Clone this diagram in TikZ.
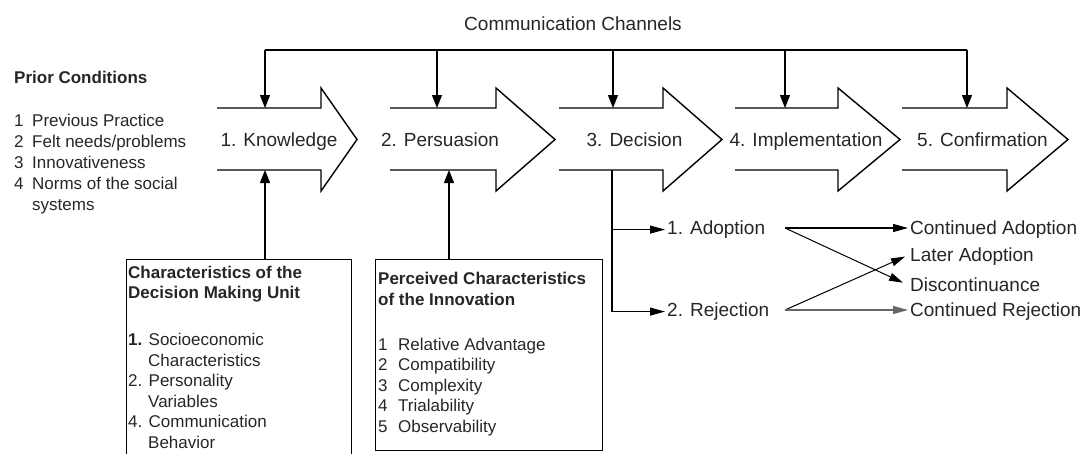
\documentclass[tikz,border=0pt]{standalone}
\usepackage{fontspec}
\setmainfont{Liberation Sans}
\usetikzlibrary{arrows.meta,calc}

\begin{document}
\begin{tikzpicture}[x=1pt,y=-1pt,
  stagebox/.style={draw=black, line width=1.4pt, line join=miter},
  bus/.style={draw=black, line width=1.3pt},
  feed/.style={bus, -{Triangle[length=13pt,width=10pt]}},
  branch/.style={draw=black, line width=1.2pt, -{Triangle[length=15pt,width=8pt]}, shorten >=2pt},
  cross/.style={draw=black, line width=1pt, -{Triangle[length=14pt,width=8pt]}},
  biglabel/.style={font=\fontsize{19}{22}\selectfont, inner sep=0pt, text=black!85},
  smalltext/.style={font=\fontsize{17}{20.5}\selectfont, inner sep=0pt, text=black!85},
  panel/.style={draw=black, line width=1.3pt, anchor=north west, inner sep=0pt},
]
\useasboundingbox (0,0) rectangle (1086,453);
\clip (0,0) rectangle (1086,453);

% ---- the five stages as open block arrows: left x, shaft end, tip, label x
\foreach \i/\l/\s/\t/\c/\txt in {
  1/217/321/357/279/{1. Knowledge},
  2/390/496/555/440/{2. Persuasion},
  3/559/663/722/634.5/{3. Decision},
  4/735/838/900/806/{4. Implementation},
  5/902/1007/1068/982.5/{5. Confirmation}}{
  \draw[stagebox] (\l,108) -- (\s,108) -- (\s,88) -- (\t,139.5) -- (\s,191) -- (\s,170) -- (\l,170);
  \node[biglabel, anchor=base] (stage\i) at (\c,146.5) {\txt};
}

% entry points on the top and bottom edges of the stage arrows
\coordinate (s1t) at (265,108);
\coordinate (s2t) at (437,108);
\coordinate (s3t) at (613,108);
\coordinate (s4t) at (785,108);
\coordinate (s5t) at (967,108);
\coordinate (s1b) at (265,170);
\coordinate (s2b) at (449,170);
\coordinate (s3b) at (612,170);

% ---- communication channels bus
\node[biglabel, anchor=base] (comm) at (573,30.5) {Communication Channels};
\coordinate (c1) at (265,50);
\coordinate (c2) at (437,50);
\coordinate (c3) at (613,50);
\coordinate (c4) at (785,50);
\coordinate (c5) at (967,50);
\draw[bus] (c1) -- (c5);
\foreach \i in {1,...,5}{ \draw[feed] (c\i) -- (s\i t); }

% ---- prior conditions
\node[anchor=base west, inner sep=0pt, text=black!85] (prior) at (14,83) {%
  \fontsize{17}{21}\selectfont
  \begin{tabular}[t]{@{}l@{}l@{}}
  \multicolumn{2}{@{}l@{}}{\textbf{Prior Conditions}}\\[22.5pt]
  \makebox[18pt][l]{1} & Previous Practice\\
  \makebox[18pt][l]{2} & Felt needs/problems\\
  \makebox[18pt][l]{3} & Innovativeness\\
  \makebox[18pt][l]{4} & Norms of the social\\
   & systems
  \end{tabular}};

% ---- characteristics of the decision making unit
\node[panel, minimum width=225pt, minimum height=240pt] (unit) at (126,259) {};
\node[smalltext, anchor=base west] (unittext) at (128,278) {%
  \begin{tabular}[t]{@{}l@{}}
  \textbf{Characteristics of the}\\
  \textbf{Decision Making Unit}\\[26.5pt]
  \textbf{1.} Socioeconomic\\
  \hspace{20pt}Characteristics\\
  2. Personality\\
  \hspace{20pt}Variables\\
  4. Communication\\
  \hspace{20pt}Behavior
  \end{tabular}};
\draw[feed] (s1b |- unit.north) -- (s1b);

% ---- perceived characteristics of the innovation
\node[panel, minimum width=227pt, minimum height=191pt] (innov) at (375,259) {};
\node[smalltext, anchor=base west] (innovtext) at (378,284.5) {%
  \begin{tabular}[t]{@{}l@{}l@{}}
  \multicolumn{2}{@{}l@{}}{\textbf{Perceived Characteristics}}\\
  \multicolumn{2}{@{}l@{}}{\textbf{of the Innovation}}\\[24.5pt]
  \makebox[20pt][l]{1} & Relative Advantage\\
  \makebox[20pt][l]{2} & Compatibility\\
  \makebox[20pt][l]{3} & Complexity\\
  \makebox[20pt][l]{4} & Trialability\\
  \makebox[20pt][l]{5} & Observability
  \end{tabular}};
\draw[feed] (s2b |- innov.north) -- (s2b);

% ---- decision outcomes
\node[biglabel, anchor=base west] (adopt) at (667,234.5) {1. Adoption};
\node[biglabel, anchor=base west] (reject) at (667,316.5) {2. Rejection};
\draw[branch] (s3b |- adopt.west) -- (adopt.west);
\draw[branch] (s3b) |- (reject.west);

\node[biglabel, anchor=base west] (contadopt) at (910,234.5) {Continued Adoption};
\node[biglabel, anchor=base west] (later) at (910,261.5) {Later Adoption};
\node[biglabel, anchor=base west] (discont) at (910,291.5) {Discontinuance};
\node[biglabel, anchor=base west] (contreject) at (910,316.5) {Continued Rejection};

\coordinate (afork) at (785,228);
\coordinate (rfork) at (785,310);
\draw[branch] (afork) -- (afork -| contadopt.west);
\draw[cross] (afork) -- ($(discont.west)+(-7,-2)$);
\draw[cross] (rfork) -- ($(later.west)+(-5,0)$);
\draw[branch, draw=black!60] (rfork) -- (rfork -| contreject.west);
\end{tikzpicture}
\end{document}
